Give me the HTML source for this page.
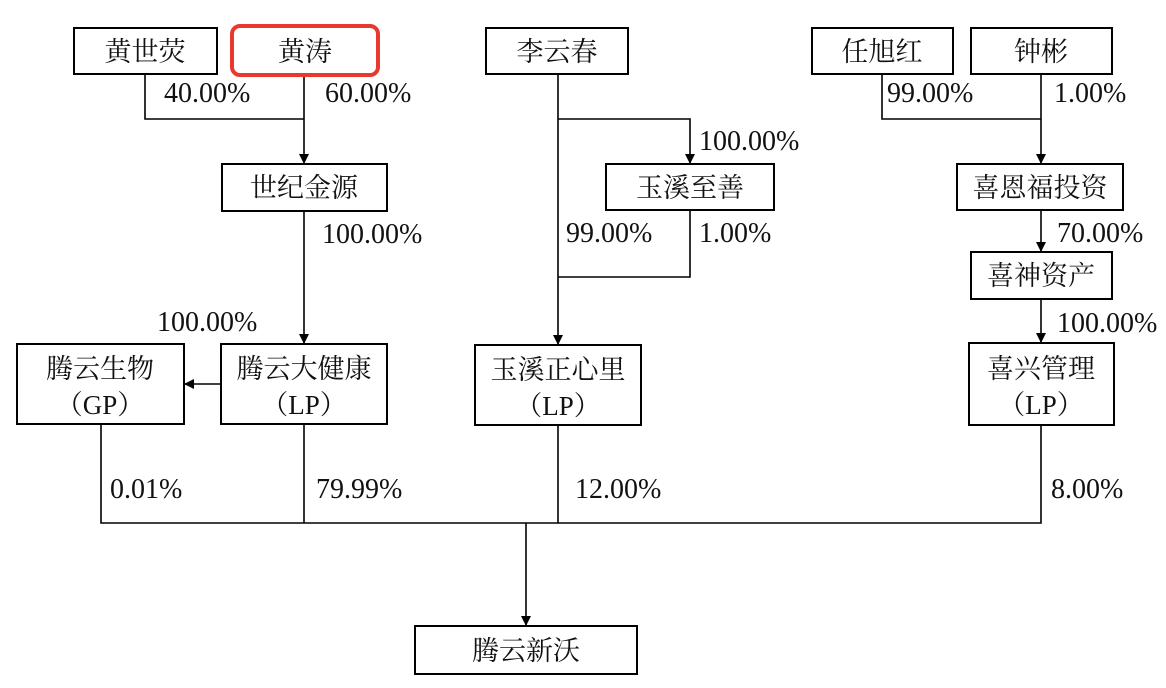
<!DOCTYPE html>
<html><head><meta charset="utf-8"><style>
html,body{margin:0;padding:0;background:#fff;}
svg{display:block;}
.b{fill:#fff;stroke:#000;stroke-width:2;}
.l{stroke:#000;stroke-width:1.6;fill:none;}
.c{font-family:"Liberation Serif","Noto Serif CJK SC",serif;font-size:27px;fill:#111;text-anchor:middle;}
.p{font-family:"Liberation Serif",serif;font-size:28px;fill:#111;}
</style></head><body>
<svg width="1166" height="688" viewBox="0 0 1166 688" xmlns="http://www.w3.org/2000/svg">
<defs><marker id="a" markerWidth="10" markerHeight="10" refX="9" refY="5" orient="auto" markerUnits="userSpaceOnUse"><path d="M0,0 L10,5 L0,10 z" fill="#000"/></marker></defs>
<path class="l" d="M145 74 V119 H304"/>
<path class="l" d="M304 77 V163" marker-end="url(#a)"/>
<path class="l" d="M304 211 V343" marker-end="url(#a)"/>
<path class="l" d="M221 384 H185" marker-end="url(#a)"/>
<path class="l" d="M558 74 V344" marker-end="url(#a)"/>
<path class="l" d="M558 119 H690 V163" marker-end="url(#a)"/>
<path class="l" d="M690 210 V277 H558"/>
<path class="l" d="M882 74 V119 H1041"/>
<path class="l" d="M1041 74 V163" marker-end="url(#a)"/>
<path class="l" d="M1041 210 V251" marker-end="url(#a)"/>
<path class="l" d="M1041 299 V342" marker-end="url(#a)"/>
<path class="l" d="M101 424 V523 H1041 V425"/>
<path class="l" d="M304 424 V523"/>
<path class="l" d="M558 425 V523"/>
<path class="l" d="M526 523 V625" marker-end="url(#a)"/>
<rect class="b" x="74" y="28" width="143" height="46"/>
<rect x="232" y="26" width="146" height="49" rx="8" fill="#fff" stroke="#e8392f" stroke-width="4"/>
<rect class="b" x="222" y="164" width="165" height="47"/>
<rect class="b" x="17" y="344" width="167" height="80"/>
<rect class="b" x="221" y="344" width="166" height="80"/>
<rect class="b" x="486" y="28" width="142" height="46"/>
<rect class="b" x="606" y="164" width="168" height="46"/>
<rect class="b" x="475" y="345" width="166" height="80"/>
<rect class="b" x="812" y="28" width="141" height="46"/>
<rect class="b" x="971" y="28" width="141" height="46"/>
<rect class="b" x="957" y="164" width="166" height="46"/>
<rect class="b" x="971" y="252" width="141" height="47"/>
<rect class="b" x="969" y="343" width="145" height="82"/>
<rect class="b" x="415" y="626" width="222" height="48"/>
<text class="c" x="145" y="61">黄世荧</text>
<text class="c" x="305" y="61">黄涛</text>
<text class="c" x="304" y="197">世纪金源</text>
<text class="c" x="100" y="378">腾云生物</text>
<text class="c" x="100" y="414">（GP）</text>
<text class="c" x="304" y="378">腾云大健康</text>
<text class="c" x="304" y="414">（LP）</text>
<text class="c" x="557" y="61">李云春</text>
<text class="c" x="690" y="197">玉溪至善</text>
<text class="c" x="558" y="379">玉溪正心里</text>
<text class="c" x="558" y="415">（LP）</text>
<text class="c" x="882" y="61">任旭红</text>
<text class="c" x="1041" y="61">钟彬</text>
<text class="c" x="1040" y="197">喜恩福投资</text>
<text class="c" x="1041" y="285">喜神资产</text>
<text class="c" x="1041" y="378">喜兴管理</text>
<text class="c" x="1041" y="414">（LP）</text>
<text class="c" x="526" y="660">腾云新沃</text>
<text class="p" x="164" y="102">40.00%</text>
<text class="p" x="325" y="102">60.00%</text>
<text class="p" x="322" y="243">100.00%</text>
<text class="p" x="157" y="331">100.00%</text>
<text class="p" x="699" y="150">100.00%</text>
<text class="p" x="566" y="242">99.00%</text>
<text class="p" x="699" y="242">1.00%</text>
<text class="p" x="887" y="102">99.00%</text>
<text class="p" x="1054" y="102">1.00%</text>
<text class="p" x="1057" y="242">70.00%</text>
<text class="p" x="1057" y="332">100.00%</text>
<text class="p" x="110" y="498">0.01%</text>
<text class="p" x="316" y="498">79.99%</text>
<text class="p" x="575" y="498">12.00%</text>
<text class="p" x="1051" y="498">8.00%</text>
</svg>
</body></html>
